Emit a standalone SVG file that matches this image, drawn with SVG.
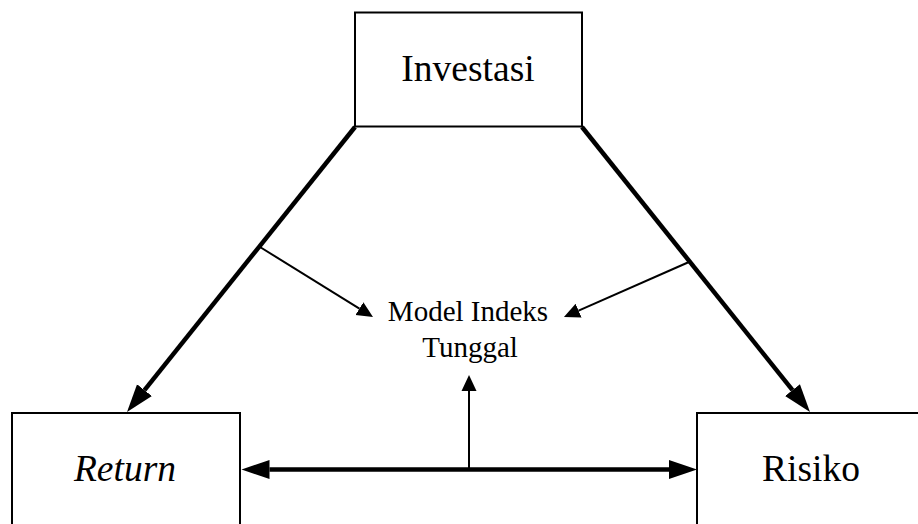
<svg xmlns="http://www.w3.org/2000/svg" width="918" height="524" viewBox="0 0 918 524">
<style>
.box{fill:#fff;stroke:#000;stroke-width:2}
.lbl{font-family:"Liberation Serif","Times New Roman",serif;fill:#000;text-anchor:middle}
.big{font-size:37.5px}
.mid{font-size:29px}
.thick{stroke:#000;stroke-width:4.5;fill:none}
.thin{stroke:#000;stroke-width:2;fill:none}
</style>
<defs>
<marker id="bigHead" markerUnits="userSpaceOnUse" markerWidth="30" markerHeight="22" viewBox="0 -11 30 22" refX="0" refY="0" orient="auto-start-reverse">
<path d="M0,-9.5 L28,0 L0,9.5 Z" fill="#000"/>
</marker>
<marker id="smallHead" markerUnits="userSpaceOnUse" markerWidth="18" markerHeight="18" viewBox="0 -9 18 18" refX="0" refY="0" orient="auto">
<path d="M0,-7.5 L16,0 L0,7.5 Z" fill="#000"/>
</marker>
</defs>
<g id="investasi">
<rect class="box" x="355" y="12.5" width="227" height="114"/>
<text class="lbl big" x="468" y="81">Investasi</text>
</g>
<g id="return">
<rect class="box" x="12" y="413" width="228" height="130"/>
<text class="lbl big" x="125" y="481" font-style="italic">Return</text>
</g>
<g id="risiko">
<rect class="box" x="697" y="413" width="240" height="130"/>
<text class="lbl big" x="811" y="481">Risiko</text>
</g>
<g id="model">
<text class="lbl mid" x="468" y="321">Model Indeks</text>
<text class="lbl mid" x="470" y="357">Tunggal</text>
</g>
<g id="connectors">
<line class="thick" x1="355" y1="127" x2="144.5" y2="390.1" marker-end="url(#bigHead)"/>
<line class="thick" x1="582" y1="127" x2="792.5" y2="390.1" marker-end="url(#bigHead)"/>
<line class="thick" x1="269.5" y1="469.5" x2="669" y2="469.5" marker-start="url(#bigHead)" marker-end="url(#bigHead)"/>
<line class="thin" x1="260" y1="247" x2="359.4" y2="308.6" marker-end="url(#smallHead)"/>
<line class="thin" x1="689" y1="262" x2="578.6" y2="310.6" marker-end="url(#smallHead)"/>
<line class="thin" x1="469" y1="469" x2="469" y2="391" marker-end="url(#smallHead)"/>
</g>
</svg>
